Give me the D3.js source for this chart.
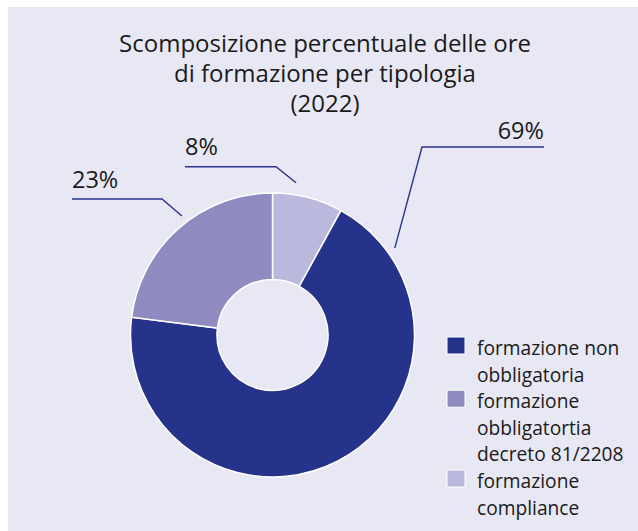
<!DOCTYPE html>
<html>
<head>
<meta charset="utf-8">
<script src="https://cdnjs.cloudflare.com/ajax/libs/d3/7.8.5/d3.min.js"></script>
<style>
  body { margin: 0; background: #fff; }
  svg { display: block; }
  text { font-family: "Open Sans", "Noto Sans", sans-serif; fill: #1a1a1a; }
</style>
</head>
<body>
<script>
const categories = ["formazione compliance", "formazione non obbligatoria", "formazione obbligatortia decreto 81/2208"]; //Slice order, clockwise from 12 o'clock.
const values = [8, 69, 23]; //Percent of training hours.
const pctLabels = ["8%", "69%", "23%"];

const legendOrder = [1, 2, 0]; //Index into categories.
const legendLines = [["formazione non", "obbligatoria"], ["formazione", "obbligatortia", "decreto 81/2208"], ["formazione", "compliance"]];

const titleLines = ["Scomposizione percentuale delle ore", "di formazione per tipologia", "(2022)"];

const width = 638, height = 531;
const cx = 272.5, cy = 335; //Donut centre.
const outerR = 142, innerR = 55.5;

const colour = d3.scaleOrdinal()
                 .domain(categories)
                 .range(["#bab8dc", "#26338a", "#8d8bc0"]);

const svg = d3.select("body").append("svg")
              .attr("width", width)
              .attr("height", height);

svg.append("rect") //Panel background.
   .attr("x", 8).attr("y", 7)
   .attr("width", width - 8).attr("height", height - 7)
   .attr("fill", "#e8e8f4");

//Title
svg.append("text")
   .attr("text-anchor", "middle")
   .style("font-size", "24px")
   .selectAll("tspan")
   .data(titleLines)
   .enter().append("tspan")
   .attr("x", 325)
   .attr("y", (d, i) => 52 + i * 30)
   .text(d => d);

//Donut
const pie = d3.pie().sort(null).value(d => d);
const arcs = pie(values);
const arc = d3.arc().innerRadius(innerR).outerRadius(outerR);

const g = svg.append("g").attr("transform", "translate(" + cx + "," + cy + ")");

g.selectAll("path")
 .data(arcs)
 .enter().append("path")
 .attr("d", arc)
 .attr("fill", (d, i) => colour(categories[i]))
 .attr("stroke", "#fff")
 .attr("stroke-width", 1.5);

//Leader lines + percent labels. Layout: where the line leaves the ring, the elbow, and the far end.
const leaders = [
  { a: 8.8,   r: 154,   elbow: [276, 166.7], end: [185, 166.7], tx: 185, ty: 155, anchor: "start" },
  { a: 54.6,  r: 150,   elbow: [422, 147],   end: [544, 147],   tx: 544, ty: 139, anchor: "end" },
  { a: 322.7, r: 149.5, elbow: [162, 199],   end: [72, 199],    tx: 72,  ty: 188, anchor: "start" }
];

leaders.forEach((l, i) => {
  const p = d3.pointRadial(l.a * Math.PI / 180, l.r);
  svg.append("polyline")
     .attr("points", [[cx + p[0], cy + p[1]], l.elbow, l.end].map(q => q.join(",")).join(" "))
     .attr("fill", "none")
     .attr("stroke", "#26338a")
     .attr("stroke-width", 1.4);
  svg.append("text")
     .attr("x", l.tx).attr("y", l.ty)
     .attr("text-anchor", l.anchor)
     .style("font-size", "23.5px")
     .text(pctLabels[i]);
});

//Legend
let lineY = 355;
legendOrder.forEach((ci, k) => {
  svg.append("rect")
     .attr("x", 447).attr("y", lineY - 18)
     .attr("width", 18).attr("height", 17)
     .attr("fill", colour(categories[ci]))
     .attr("stroke", "#fff")
     .attr("stroke-width", 1);
  legendLines[k].forEach(t => {
    svg.append("text")
       .attr("x", 477).attr("y", lineY)
       .style("font-size", "19.2px")
       .text(t);
    lineY += 26.6;
  });
});
</script>
</body>
</html>
